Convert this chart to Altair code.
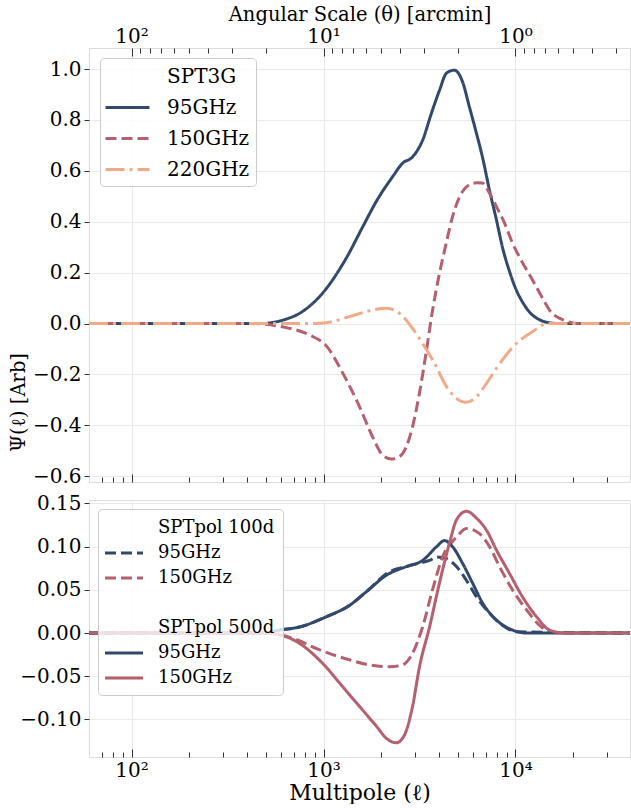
import altair as alt
import pandas as pd

NAVY = "#33496b"
PINK = "#b5606f"
PEACH = "#f0aa88"
CLEAR = "rgba(0,0,0,0)"
FONT = "DejaVu Serif"
TICK = "#333333"
GRID = "#e9e9e9"

# ---------------- data ----------------
# SPT3G (top panel)
spt3g_95_ell = [60, 490, 520, 624, 750, 990, 1320, 1600, 1900, 2290, 2580, 2900, 3280,
                3650, 4020, 4370, 4800, 5300, 5750, 6260, 6730, 7320, 7960, 8550, 9306,
                10120, 10870, 11830, 13340, 15040, 16940, 39500]
spt3g_95_psi = [0, 0, 0.002, 0.015, 0.04, 0.12, 0.26, 0.38, 0.485, 0.577, 0.63, 0.654, 0.72,
                0.827, 0.917, 0.984, 0.996, 0.95, 0.852, 0.748, 0.654, 0.524, 0.407, 0.30, 0.205,
                0.13, 0.085, 0.045, 0.015, 0.003, 0, 0]

spt3g_150_ell = [60, 410, 610, 845, 1040, 1260, 1540, 1800, 2030, 2260, 2490, 2700, 2910,
                 3160, 3440, 3700, 4020, 4370, 4700, 5110, 5550, 6260, 6730, 7320, 7960,
                 8770, 9650, 10870, 12260, 13820, 15040, 18000, 21500, 39500]
spt3g_150_psi = [0, 0, -0.013, -0.045, -0.09, -0.195, -0.327, -0.445, -0.517, -0.533, -0.523,
                 -0.484, -0.405, -0.274, -0.104, 0.053, 0.198, 0.32, 0.42, 0.498, 0.537, 0.553,
                 0.552, 0.512, 0.459, 0.395, 0.316, 0.24, 0.171, 0.10, 0.053, 0.012, 0, 0]

spt3g_220_ell = [60, 900, 1037, 1365, 1737, 2128, 2488, 2908, 3281, 3787, 4372, 4929, 5490,
                 6264, 7063, 8054, 10120, 12260, 14690, 39500]
spt3g_220_psi = [0, 0, 0.003, 0.027, 0.05, 0.06, 0.04, -0.019, -0.078, -0.156, -0.248, -0.294,
                 -0.31, -0.288, -0.235, -0.17, -0.078, -0.032, 0, 0]

# SPTpol (bottom panel)
p100_95_ell = [60, 493, 590, 750, 1037, 1365, 1675, 2207, 2705, 3162, 3566, 3883, 4372, 4929,
               5553, 6264, 7323, 8554, 10120, 39500]
p100_95_psi = [0, 0, 0.0035, 0.007, 0.019, 0.032, 0.048, 0.071, 0.077, 0.081, 0.084, 0.088,
               0.086, 0.077, 0.061, 0.042, 0.023, 0.009, 0.0015, 0]

p100_150_ell = [60, 493, 590, 690, 920, 1114, 1365, 1737, 2207, 2577, 2908, 3281, 3696, 4169,
                4929, 5553, 6494, 7323, 8254, 9645, 11400, 13340, 15040, 18000, 39500]
p100_150_psi = [0, 0, -0.002, -0.006, -0.018, -0.025, -0.031, -0.037, -0.039, -0.037, -0.0235,
                0.007, 0.05, 0.088, 0.111, 0.121, 0.115, 0.10, 0.077, 0.05, 0.027, 0.009,
                0.0015, 0, 0]

p500_95_ell = [60, 493, 590, 750, 1037, 1365, 1675, 2128, 2705, 3281, 3883, 4267, 4700, 5293,
               5972, 6731, 7962, 9645, 11400, 39500]
p500_95_psi = [0, 0, 0.0035, 0.007, 0.019, 0.032, 0.048, 0.067, 0.077, 0.084, 0.10, 0.107, 0.10,
               0.081, 0.058, 0.035, 0.015, 0.0035, 0, 0]

p500_150_ell = [60, 493, 590, 750, 988, 1256, 1540, 1888, 2128, 2399, 2641, 2908, 3162, 3566,
                4018, 4529, 4929, 5553, 6264, 7063, 7962, 9306, 10870, 12860, 15040, 18000, 39500]
p500_150_psi = [0, 0, -0.002, -0.012, -0.035, -0.062, -0.085, -0.108, -0.122, -0.127, -0.118,
                -0.085, -0.039, 0.007, 0.058, 0.104, 0.131, 0.141, 0.133, 0.119, 0.096, 0.069,
                0.042, 0.019, 0.0035, 0, 0]

# legend entries (headings have no line)
top_entries = ["SPT3G", "95GHz", "150GHz", "220GHz"]
top_colors = [CLEAR, NAVY, PINK, PEACH]
top_dashes = [[1, 0], [1, 0], [11, 5], [19, 5, 3, 5]]

bot_entries = ["SPTpol 100d", "100d 95GHz", "100d 150GHz", " ", "SPTpol 500d",
               "500d 95GHz", "500d 150GHz"]
bot_colors = [CLEAR, NAVY, PINK, CLEAR, CLEAR, NAVY, PINK]
bot_dashes = [[1, 0], [11, 5], [11, 5], [1, 0], [1, 0], [1, 0], [1, 0]]

# ticks
ell_major = [100, 1000, 10000]
ell_minor = [70, 80, 90, 200, 300, 400, 500, 600, 700, 800, 900,
             2000, 3000, 4000, 5000, 6000, 7000, 8000, 9000, 20000, 30000]
theta_major = [100, 10, 1]
theta_minor = [90, 80, 70, 60, 50, 40, 30, 20, 9, 8, 7, 6, 5, 4, 3, 2,
               0.9, 0.8, 0.7, 0.6, 0.5, 0.4, 0.3]
top_yticks = [-0.6, -0.4, -0.2, 0.0, 0.2, 0.4, 0.6, 0.8, 1.0]
bot_yticks = [-0.10, -0.05, 0.0, 0.05, 0.10, 0.15]

ell_ticks = sorted(ell_major + ell_minor)
theta_ticks_in_ell = sorted(1e4 / t for t in theta_major + theta_minor)


def frame(name, ell, psi):
    return pd.DataFrame({"series": name, "ell": ell, "psi": psi})


top_df = pd.concat([
    frame("95GHz", spt3g_95_ell, spt3g_95_psi),
    frame("150GHz", spt3g_150_ell, spt3g_150_psi),
    frame("220GHz", spt3g_220_ell, spt3g_220_psi),
], ignore_index=True)

bot_df = pd.concat([
    frame("100d 95GHz", p100_95_ell, p100_95_psi),
    frame("100d 150GHz", p100_150_ell, p100_150_psi),
    frame("500d 95GHz", p500_95_ell, p500_95_psi),
    frame("500d 150GHz", p500_150_ell, p500_150_psi),
], ignore_index=True)

MAJOR = "datum.value == 100 || datum.value == 1000 || datum.value == 10000"
xscale = alt.Scale(type="log", domain=[60, 39500], nice=False)


def x_axis(orient, values, label_expr=None, title=None, grid=True, title_size=22,
           label_pad=2, title_pad=2):
    kw = dict(
        orient=orient, values=values, offset=-8, tickSize=8, tickColor=TICK, tickWidth=1,
        tickDash={"condition": {"test": MAJOR, "value": [8, 0]}, "value": [0, 3, 5, 0]},
        domain=False, grid=grid, labelOverlap=False, labelFlush=False,
        labelFont=FONT, labelFontSize=20, labelColor="black", labelPadding=label_pad,
    )
    if grid:
        kw["gridColor"] = GRID
        kw["gridWidth"] = 1
        kw["gridOpacity"] = {"condition": {"test": MAJOR, "value": 1}, "value": 0}
    if label_expr is None:
        kw["labels"] = False
    else:
        kw["labelExpr"] = label_expr
    if title is None:
        kw["title"] = None
    else:
        kw.update(title=title, titleFont=FONT, titleFontSize=title_size,
                  titleFontWeight="normal", titleColor="black", titlePadding=title_pad)
    return alt.Axis(**kw)


def y_axis(values, fmt, title=None):
    kw = dict(values=values, format=fmt, tickSize=5, tickColor=TICK, domain=False,
              grid=True, gridColor=GRID, labelFont=FONT, labelFontSize=20,
              labelColor="black", labelPadding=3)
    if title is None:
        kw["title"] = None
    else:
        kw.update(title=title, titleFont=FONT, titleFontSize=19.5, titleFontWeight="normal",
                  titleColor="black", titleX=-71, titleY=354, titleAngle=270,
                  titleBaseline="middle", titleAlign="center")
    return alt.Axis(**kw)


def legend(x, y, fontsize, size, rowpad, loff, soff, pad, label_expr=None):
    kw = dict(orient="none", legendX=x, legendY=y, title=None, labelFont=FONT,
              labelFontSize=fontsize, labelColor="black", symbolType="M-2,0H2",
              symbolSize=size, symbolStrokeWidth=3, symbolOffset=soff, labelOffset=loff,
              rowPadding=rowpad, padding=pad, fillColor="rgba(255,255,255,0.8)",
              strokeColor="#cccccc", cornerRadius=4, labelLimit=0)
    if label_expr:
        kw["labelExpr"] = label_expr
    return alt.Legend(**kw)


top_leg = legend(11, 10, 20, 484, 8, 27, 9, 6)
bot_label = ("split(datum.label, ' ')[0] == '100d' || split(datum.label, ' ')[0] == '500d'"
             " ? split(datum.label, ' ')[1] : datum.label")
bot_leg = legend(9, 9, 18, 361, 5, 23, 7, 8, bot_label)

top_lines = alt.Chart(top_df).mark_line(strokeWidth=3, clip=True, interpolate="monotone").encode(
    x=alt.X("ell:Q", scale=xscale, axis=x_axis("bottom", ell_ticks)),
    y=alt.Y("psi:Q", scale=alt.Scale(domain=[-0.623, 1.083], nice=False, zero=False),
            axis=y_axis(top_yticks, ".1f", "Ψ(ℓ) [Arb]")),
    color=alt.Color("series:N", scale=alt.Scale(domain=top_entries, range=top_colors),
                    legend=top_leg),
    strokeDash=alt.StrokeDash("series:N", scale=alt.Scale(domain=top_entries, range=top_dashes),
                              legend=top_leg),
)

top_label_expr = ("datum.value == 100 ? '10²' : datum.value == 1000 ? '10¹' : "
                  "datum.value == 10000 ? '10⁰' : ''")
top_theta = alt.Chart(top_df).mark_rule(strokeOpacity=0).encode(
    x=alt.X("ell:Q", scale=xscale,
            axis=x_axis("top", theta_ticks_in_ell, top_label_expr,
                        "Angular Scale (θ) [arcmin]", grid=False, title_size=19.5,
                        label_pad=2, title_pad=2)),
)

top = alt.layer(top_lines, top_theta).resolve_axis(x="independent").properties(
    width=541, height=434)

bot_label_expr = ("datum.value == 100 ? '10²' : datum.value == 1000 ? '10³' : "
                  "datum.value == 10000 ? '10⁴' : ''")
bottom = alt.Chart(bot_df).mark_line(strokeWidth=3, clip=True, interpolate="monotone").encode(
    x=alt.X("ell:Q", scale=xscale,
            axis=x_axis("bottom", ell_ticks, bot_label_expr, "Multipole (ℓ)",
                        label_pad=3, title_pad=2)),
    y=alt.Y("psi:Q", scale=alt.Scale(domain=[-0.1435, 0.154], nice=False, zero=False),
            axis=y_axis(bot_yticks, ".2f")),
    color=alt.Color("series:N", scale=alt.Scale(domain=bot_entries, range=bot_colors),
                    legend=bot_leg),
    strokeDash=alt.StrokeDash("series:N", scale=alt.Scale(domain=bot_entries, range=bot_dashes),
                              legend=bot_leg),
).properties(width=541, height=257)

chart = alt.vconcat(top, bottom, spacing=18, bounds="flush").resolve_scale(
    x="independent", y="independent", color="independent", strokeDash="independent"
).resolve_legend(color="independent", strokeDash="independent").properties(
    padding={"left": 7, "top": 3, "right": 0, "bottom": 0}, background="white"
).configure_view(stroke="black", strokeWidth=2.5).configure(font=FONT)

chart.save("out.html", embed_options={"renderer": "svg", "actions": False})
